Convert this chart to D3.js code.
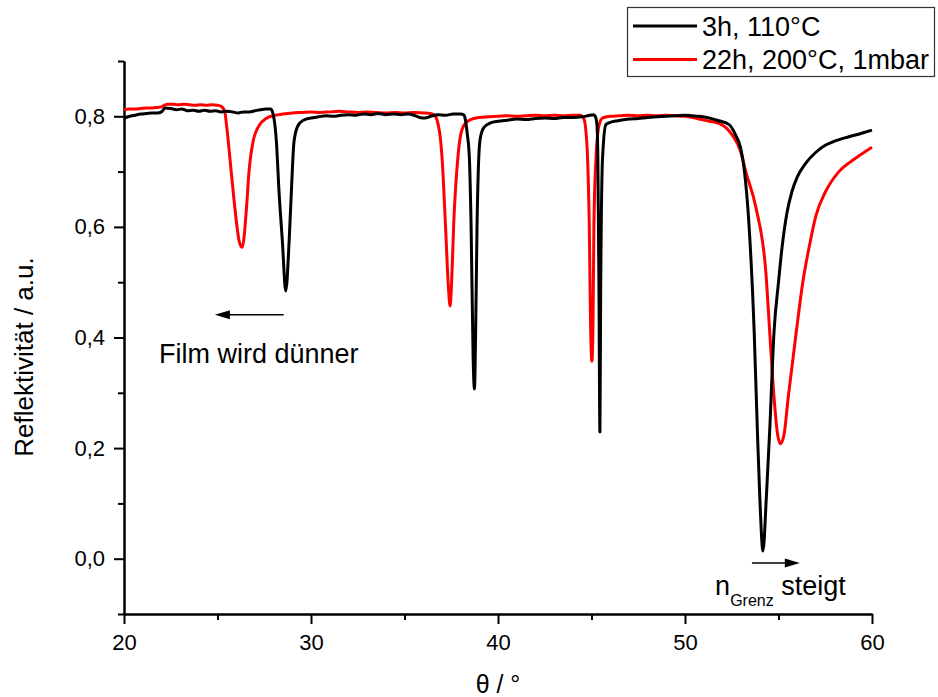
<!DOCTYPE html>
<html><head><meta charset="utf-8">
<script src="https://cdn.jsdelivr.net/npm/d3@7"></script>
<style>body{margin:0;background:#fff} text{font-family:"Liberation Sans", Arial, sans-serif;fill:#000}</style>
</head><body><svg id="c" width="938" height="697"></svg>
<script>
// ---- data ----
const blackTheta = [20.0,20.3,20.6,20.9,21.2,21.5,21.8,22.0,22.2,22.5,22.8,23.1,23.4,23.7,24.0,24.3,24.6,24.9,25.2,25.5,25.8,26.1,26.4,26.7,27.0,27.3,27.6,27.85,28.0,28.15,28.29,28.47,28.65,28.83,28.95,29.09,29.3,29.6,30.0,30.4,30.8,31.2,31.6,32.0,32.4,32.8,33.2,33.6,34.0,34.4,34.8,35.2,35.5,35.8,36.1,36.4,36.8,37.2,37.6,38.0,38.15,38.25,38.35,38.47,38.56,38.67,38.74,38.80,38.88,38.97,39.05,39.25,39.6,40.0,40.5,41.0,41.5,42.0,42.5,43.0,43.5,44.0,44.5,44.8,45.1,45.2,45.29,45.34,45.40,45.45,45.49,45.59,45.77,46.0,46.4,47.0,47.5,48.0,48.5,49.0,49.5,50.0,50.4,50.75,51.29,51.8,52.36,52.71,52.98,53.16,53.42,53.70,53.87,54.00,54.17,54.35,54.53,54.76,55.0,55.18,55.45,55.72,56.0,56.45,57.0,57.52,58.0,58.76,59.4,60.0];
const blackR = [0.797,0.800,0.802,0.804,0.805,0.806,0.806,0.808,0.815,0.814,0.812,0.813,0.810,0.811,0.809,0.811,0.809,0.810,0.808,0.809,0.808,0.806,0.808,0.808,0.810,0.812,0.813,0.813,0.800,0.754,0.664,0.574,0.484,0.574,0.664,0.754,0.783,0.793,0.797,0.799,0.801,0.800,0.802,0.803,0.802,0.804,0.803,0.805,0.803,0.804,0.803,0.804,0.802,0.798,0.797,0.800,0.803,0.802,0.804,0.804,0.803,0.795,0.770,0.724,0.604,0.364,0.307,0.400,0.604,0.724,0.760,0.780,0.788,0.791,0.793,0.795,0.794,0.796,0.797,0.796,0.798,0.798,0.799,0.801,0.803,0.800,0.785,0.724,0.481,0.229,0.481,0.724,0.785,0.789,0.792,0.795,0.796,0.798,0.799,0.800,0.801,0.802,0.801,0.800,0.797,0.792,0.785,0.766,0.742,0.706,0.605,0.410,0.232,0.111,0.014,0.111,0.232,0.410,0.500,0.560,0.625,0.664,0.690,0.715,0.735,0.748,0.755,0.763,0.769,0.775];

const redTheta = [20.0,20.3,20.6,20.9,21.2,21.5,21.8,22.0,22.3,22.6,22.9,23.2,23.5,23.8,24.1,24.4,24.7,25.0,25.2,25.38,25.48,25.75,25.93,26.16,26.32,26.55,26.67,26.9,27.26,27.6,27.96,28.5,29.0,29.5,30.0,30.5,31.0,31.5,32.0,32.5,33.0,33.5,34.0,34.5,35.0,35.5,36.0,36.4,36.65,36.8,36.92,37.01,37.19,37.35,37.44,37.52,37.63,37.85,37.97,38.2,38.6,39.0,39.5,40.0,40.5,41.0,41.5,42.0,42.5,43.0,43.5,44.0,44.4,44.6,44.68,44.79,44.88,44.95,45.02,45.08,45.13,45.24,45.41,45.6,46.0,46.5,47.0,47.5,48.0,48.5,49.0,49.5,50.0,50.4,50.75,51.3,51.82,52.2,52.53,52.98,53.25,53.8,54.33,54.53,54.76,54.95,55.11,55.3,55.52,55.95,56.3,56.63,57.0,57.52,58.23,59.12,60.0];
const redR = [0.812,0.813,0.813,0.814,0.815,0.815,0.816,0.817,0.822,0.822,0.821,0.822,0.821,0.820,0.821,0.820,0.821,0.820,0.818,0.810,0.785,0.694,0.634,0.574,0.563,0.634,0.694,0.754,0.785,0.796,0.801,0.804,0.806,0.807,0.808,0.807,0.808,0.809,0.808,0.807,0.808,0.807,0.806,0.807,0.806,0.807,0.806,0.805,0.800,0.785,0.760,0.724,0.604,0.490,0.457,0.500,0.604,0.724,0.760,0.785,0.795,0.798,0.799,0.800,0.801,0.800,0.801,0.802,0.801,0.802,0.801,0.802,0.802,0.795,0.780,0.724,0.604,0.424,0.357,0.424,0.604,0.724,0.785,0.797,0.800,0.801,0.802,0.801,0.802,0.801,0.802,0.801,0.800,0.798,0.795,0.791,0.787,0.779,0.766,0.736,0.700,0.634,0.515,0.410,0.292,0.225,0.208,0.225,0.292,0.410,0.500,0.562,0.620,0.664,0.700,0.724,0.744];

const xMajorTicks = [20,30,40,50,60];
const xMinorTicks = [25,35,45,55];
const yMajorTicks = [0,0.2,0.4,0.6,0.8];
const yMinorTicks = [-0.1,0.1,0.3,0.5,0.7,0.9];
const yTickLabels = ["0,0","0,2","0,4","0,6","0,8"];
const seriesNames = ["3h, 110°C","22h, 200°C, 1mbar"];
const seriesColors = ["#000000","#ff0000"];
const xTitle = "θ / °";
const yTitle = "Reflektivität / a.u.";
const annoLeft = "Film wird dünner";
const annoRightMain = "n", annoRightSub = "Grenz", annoRightTail = " steigt";

// ---- drawing ----
const svg = d3.select("#c");
const x = d3.scaleLinear().domain([20,60]).range([124,872]);
const y = d3.scaleLinear().domain([-0.1,0.9]).range([614,61]);

function styleAxis(g){
  g.selectAll("path").attr("stroke","#000").attr("stroke-width",2);
  g.selectAll("line").attr("stroke","#000").attr("stroke-width",2);
  g.selectAll("text").style("font-size","22px").attr("fill","#000");
}
// minor ticks
svg.append("g").attr("transform","translate(0,614)")
  .call(d3.axisBottom(x).tickValues(xMinorTicks).tickSize(6).tickSizeOuter(0).tickFormat(""))
  .call(styleAxis);
svg.append("g").attr("transform","translate(124,0)")
  .call(d3.axisLeft(y).tickValues(yMinorTicks).tickSize(6).tickSizeOuter(0).tickFormat(""))
  .call(styleAxis);
// major ticks
svg.append("g").attr("transform","translate(0,614)")
  .call(d3.axisBottom(x).tickValues(xMajorTicks).tickSize(10).tickPadding(10).tickSizeOuter(0).tickFormat(d3.format("d")))
  .call(styleAxis);
svg.append("g").attr("transform","translate(124,0)")
  .call(d3.axisLeft(y).tickValues(yMajorTicks).tickSize(10).tickPadding(9).tickSizeOuter(0)
     .tickFormat((d,i)=>yTickLabels[i]))
  .call(styleAxis);

// titles
svg.append("text").attr("x",498).attr("y",693).attr("text-anchor","middle")
  .style("font-size","25px").text(xTitle);
svg.append("text").attr("transform","translate(33,357) rotate(-90)").attr("text-anchor","middle")
  .style("font-size","26px").text(yTitle);

// series
const line = d3.line().x(d=>x(d[0])).y(d=>y(d[1])).curve(d3.curveMonotoneX);
const blackData = blackTheta.map((t,i)=>[t,blackR[i]]);
const redData = redTheta.map((t,i)=>[t,redR[i]]);
svg.append("path").datum(redData).attr("d",line).attr("fill","none")
  .attr("stroke",seriesColors[1]).attr("stroke-width",3).attr("stroke-linejoin","round");
svg.append("path").datum(blackData).attr("d",line).attr("fill","none")
  .attr("stroke",seriesColors[0]).attr("stroke-width",3).attr("stroke-linejoin","round");

// annotations (in data coordinates)
function arrow(x0,x1,yv){
  const px0=x(x0), px1=x(x1), py=y(yv);
  const dir = Math.sign(px1-px0);
  svg.append("line").attr("x1",px0).attr("x2",px1-dir*12).attr("y1",py).attr("y2",py)
    .attr("stroke","#000").attr("stroke-width",1.5);
  svg.append("path").attr("d",`M${px1},${py} L${px1-dir*15},${py-4.5} L${px1-dir*15},${py+4.5} Z`).attr("fill","#000");
}
arrow(28.54,24.86,0.441);
arrow(53.58,56.14,-0.0077);
svg.append("text").attr("x",x(21.87)).attr("y",y(0.3545)).style("font-size","27px").text(annoLeft);
const t2 = svg.append("text").attr("x",x(51.61)).attr("y",y(-0.0654)).style("font-size","27px");
t2.append("tspan").text(annoRightMain);
t2.append("tspan").attr("dy",11).style("font-size","16px").text(annoRightSub);
t2.append("tspan").attr("dy",-11).text(annoRightTail);

// legend
const lg = svg.append("g");
lg.append("rect").attr("x",627.5).attr("y",7.5).attr("width",307).attr("height",69)
  .attr("fill","#fff").attr("stroke","#333").attr("stroke-width",1.2);
seriesNames.forEach((nm,i)=>{
  const cy = 26 + i*33.5;
  lg.append("line").attr("x1",633).attr("x2",697).attr("y1",cy).attr("y2",cy)
    .attr("stroke",seriesColors[i]).attr("stroke-width",3);
  lg.append("text").attr("x",702).attr("y",cy+9.7).style("font-size","27px").text(nm);
});
</script></body></html>
